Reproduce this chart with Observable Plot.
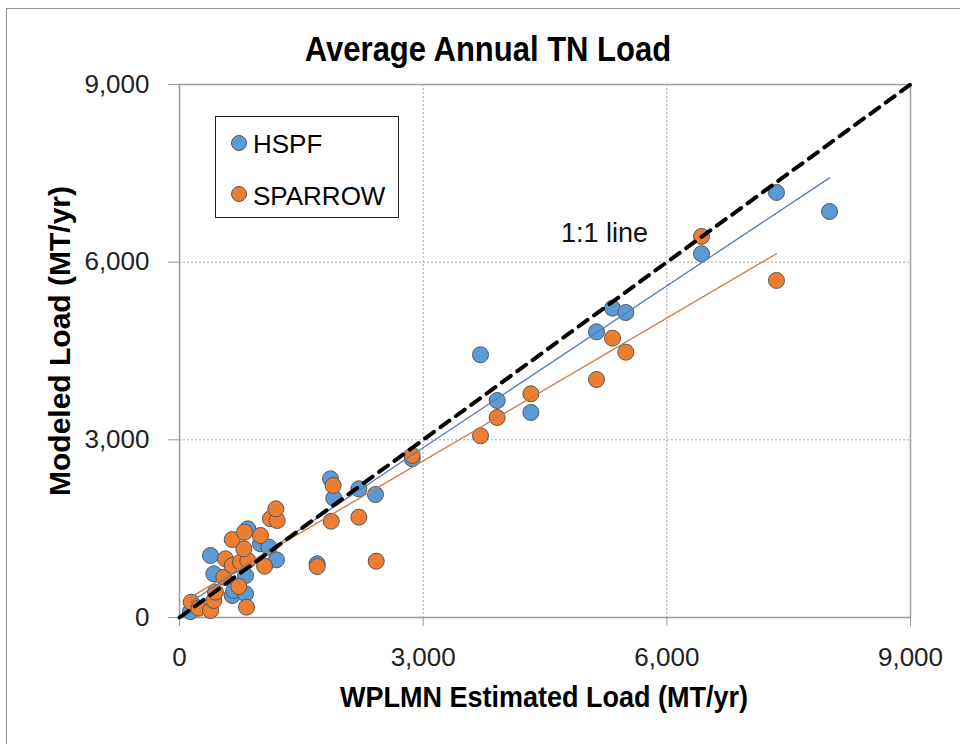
<!DOCTYPE html>
<html>
<head>
<meta charset="utf-8">
<script src="https://cdn.jsdelivr.net/npm/d3@7"></script>
<script src="https://cdn.jsdelivr.net/npm/@observablehq/plot@0.6"></script>
<style>
  html, body { margin: 0; padding: 0; background: #fff; overflow: hidden; }
  #wrap { position: relative; width: 960px; height: 744px; overflow: hidden; }
  #border { position: absolute; left: 6px; top: 8px; width: 1000px; height: 800px; border: 1px solid #8f8f8f; box-sizing: border-box; }
  .lbl { position: absolute; white-space: nowrap; line-height: 1; color: #000; font-family: "Liberation Sans", Arial, sans-serif; }
  #title { font-weight: bold; font-size: 31px; left: 488px; top: 35px; transform: translateX(-50%) scaleY(1.12); transform-origin: 50% 80%; }
  #xlab { font-weight: bold; font-size: 27px; left: 544px; top: 685px; transform: translateX(-50%) scaleY(1.1); transform-origin: 50% 80%; }
  #ylab { font-weight: bold; font-size: 30px; left: 59.6px; top: 341px; transform: translate(-50%, -50%) rotate(-90deg); }
  #legend { position: absolute; left: 215px; top: 116px; width: 184px; height: 102px; border: 1px solid #222; background: #fff; box-sizing: border-box; font-family: "Liberation Sans", Arial, sans-serif; font-size: 26px; }
  .sw { position: absolute; width: 16px; height: 16px; border-radius: 50%; border: 1px solid #555; box-sizing: border-box; }
  svg { position: absolute; left: 0; top: 0; }
</style>
</head>
<body>
<div id="wrap">
  <div id="border"></div>
  <div id="chart"></div>
  <div id="title" class="lbl">Average Annual TN Load</div>
  <div id="xlab" class="lbl">WPLMN Estimated Load (MT/yr)</div>
  <div id="ylab" class="lbl">Modeled Load (MT/yr)</div>
  <div id="legend"></div>
</div>
<script>
// ---- Data ----
const seriesNames = ["HSPF", "SPARROW"];
const seriesColors = ["#5b9bd5", "#ed7d31"];
const trendColors = ["#5a7db0", "#c77a46"];

const hspfX = [135, 382, 423, 649, 669, 813, 813, 841, 997, 1100, 1194, 1695, 1859, 1900, 2208, 2413, 2865, 3706, 3911, 4326, 5134, 5331, 5495, 6427, 7350, 8003];
const hspfY = [100, 1047, 738, 371, 456, 400, 709, 1497, 1244, 1188, 974, 907, 2342, 2015, 2173, 2077, 2680, 4436, 3664, 3462, 4824, 5223, 5150, 6142, 7177, 6856];

const sparrowX = [144, 238, 382, 423, 443, 546, 731, 825, 566, 649, 751, 841, 1047, 792, 649, 997, 800, 1120, 1203, 1186, 1695, 1868, 1892, 2208, 2422, 2865, 3706, 3911, 4326, 5134, 5331, 5495, 6427, 7350];
const sparrowY = [259, 158, 118, 287, 428, 681, 523, 174, 991, 878, 934, 963, 866, 1160, 1317, 1385, 1441, 1667, 1638, 1835, 861, 1626, 2229, 1694, 951, 2736, 3068, 3377, 3777, 4019, 4717, 4480, 6434, 5691];

const oneToOneX = [0, 9000];
const oneToOneY = [0, 9000];
const oneToOneLabel = [{x: 5233, y: 6484, text: "1:1 line"}];

const xTicks = [0, 3000, 6000, 9000];
const yTicks = [0, 3000, 6000, 9000];
const axisMax = 9000;

// ---- Tables built from the arrays ----
const hspf = hspfX.map((x, i) => ({x, y: hspfY[i]}));
const sparrow = sparrowX.map((x, i) => ({x, y: sparrowY[i]}));
const oneToOne = oneToOneX.map((x, i) => ({x, y: oneToOneY[i]}));
const inner = xTicks.filter(t => t > 0 && t < axisMax);

const chart = Plot.plot({
  width: 960,
  height: 744,
  marginLeft: 179,
  marginRight: 50,
  marginTop: 84,
  marginBottom: 127,
  style: {fontFamily: '"Liberation Sans", Arial, sans-serif', fontSize: "26px", background: "transparent"},
  x: {domain: [0, axisMax]},
  y: {domain: [0, axisMax]},
  marks: [
    Plot.gridX(inner, {stroke: "#a6a6a6", strokeOpacity: 1, strokeDasharray: "2,2"}),
    Plot.gridY(inner, {stroke: "#a6a6a6", strokeOpacity: 1, strokeDasharray: "2,2"}),
    Plot.ruleX([axisMax], {stroke: "#a0a0a0", strokeWidth: 1.5}),
    Plot.ruleY([axisMax], {stroke: "#a0a0a0", strokeWidth: 1.5}),
    Plot.ruleX([0], {stroke: "#9a9a9a", strokeWidth: 1.5}),
    Plot.ruleY([0], {stroke: "#9a9a9a", strokeWidth: 1.5}),
    Plot.axisX({ticks: xTicks, tickFormat: d3.format(","), tickSize: 9, tickPadding: 21, stroke: "#9a9a9a", fill: "#222", label: null}),
    Plot.axisY({ticks: yTicks, tickFormat: d3.format(","), tickSize: 11, tickPadding: 19, stroke: "#9a9a9a", fill: "#222", label: null}),
    Plot.dot(hspf, {x: "x", y: "y", r: 8, fill: seriesColors[0], stroke: "#555", strokeWidth: 1}),
    Plot.dot(sparrow, {x: "x", y: "y", r: 8, fill: seriesColors[1], stroke: "#555", strokeWidth: 1}),
    Plot.linearRegressionY(hspf, {x: "x", y: "y", stroke: trendColors[0], strokeWidth: 1.3, ci: 0}),
    Plot.linearRegressionY(sparrow, {x: "x", y: "y", stroke: trendColors[1], strokeWidth: 1.3, ci: 0}),
    Plot.line(oneToOne, {x: "x", y: "y", stroke: "#000", strokeWidth: 4, strokeDasharray: "11,8", strokeLinecap: "round"}),
    Plot.text(oneToOneLabel, {x: "x", y: "y", text: "text", fontFamily: '"Liberation Sans", Arial, sans-serif', fontSize: 27, fill: "#111", textAnchor: "middle"})
  ]
});
document.getElementById("chart").appendChild(chart);

// ---- Legend ----
const legend = document.getElementById("legend");
const legendTops = [14, 66];
const legendSwTops = [18, 69];
seriesNames.forEach((name, i) => {
  const sw = document.createElement("div");
  sw.className = "sw";
  sw.style.left = "15px";
  sw.style.top = legendSwTops[i] + "px";
  sw.style.background = seriesColors[i];
  legend.appendChild(sw);
  const t = document.createElement("div");
  t.className = "lbl";
  t.style.left = "37px";
  t.style.top = legendTops[i] + "px";
  t.textContent = name;
  legend.appendChild(t);
});
</script>
</body>
</html>
